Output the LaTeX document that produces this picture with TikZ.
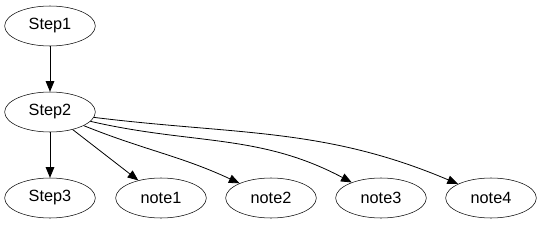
\documentclass[tikz,border=0pt]{standalone}
\usepackage{fontspec}
\setmainfont{Liberation Sans}
\usepackage{tikz}
\usetikzlibrary{shapes.geometric,arrows.meta}

\begin{document}
\begin{tikzpicture}[
  x=0.75pt,y=-0.75pt,
  stepnode/.style={ellipse,draw,minimum width=68pt,minimum height=30pt,
              inner sep=0pt,font=\fontsize{12.2}{14}\selectfont},
  arrow/.style={-{Triangle[length=8pt,width=6.5pt]},semithick}
]
\useasboundingbox (0,0) rectangle (540,225);
\node[stepnode] (step1) at (50, 26)  {Step1};
\node[stepnode] (step2) at (50, 112) {Step2};
\node[stepnode] (step3) at (50, 198) {Step3};
\node[stepnode] (note1) at (161,198) {note1};
\node[stepnode] (note2) at (271,198) {note2};
\node[stepnode] (note3) at (381,198) {note3};
\node[stepnode] (note4) at (491,198) {note4};

\draw[arrow] (step1) -- (step2);
\draw[arrow] (step2) -- (step3);
\draw[arrow] (step2) -- (note1);
\draw[arrow] (step2) to[out=-22,in=155] (note2);
\draw[arrow] (step2) to[out=-13,in=152] (note3);
\draw[arrow] (step2) to[out=-7,in=157] (note4);
\end{tikzpicture}
\end{document}
